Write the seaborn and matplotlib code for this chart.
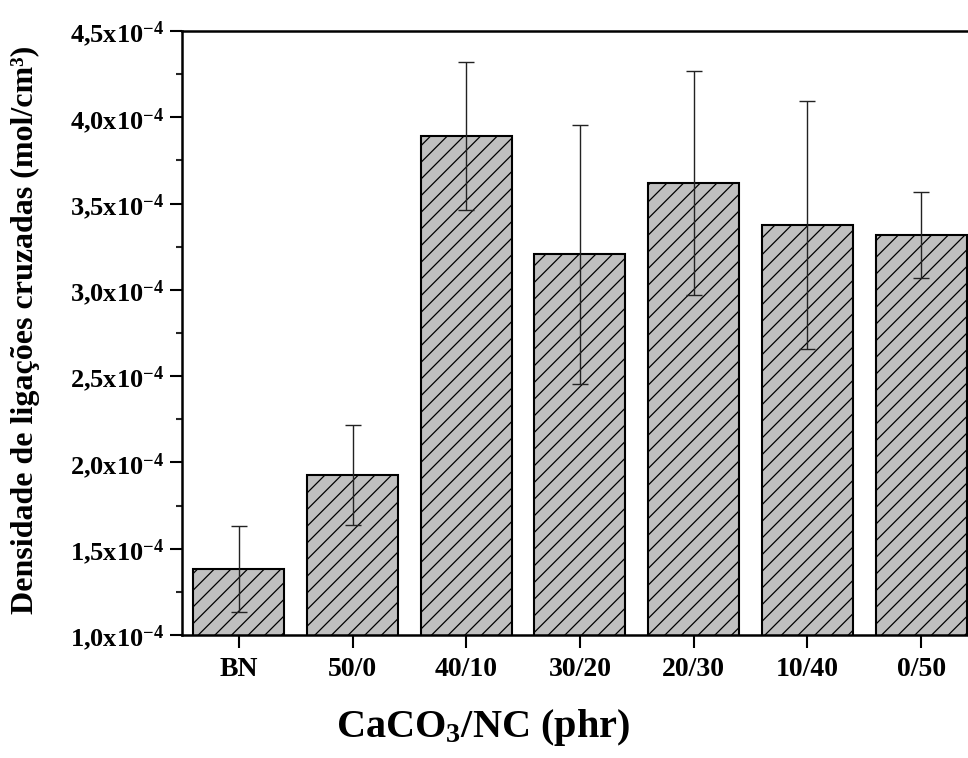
import matplotlib
matplotlib.use("Agg")
import matplotlib.pyplot as plt
from matplotlib.ticker import MultipleLocator, FuncFormatter
import seaborn as sns
import pandas as pd

# Data (values in units of 1e-4 mol/cm3)
amostras = ["BN", "50/0", "40/10", "30/20", "20/30", "10/40", "0/50"]
densidade = [1.382, 1.927, 3.891, 3.206, 3.619, 3.375, 3.316]
erro = [0.25, 0.29, 0.43, 0.75, 0.65, 0.72, 0.25]

sns.set_theme(style="ticks")
plt.rcParams["font.family"] = ["Liberation Serif", "DejaVu Serif"]
plt.rcParams["font.weight"] = "bold"
plt.rcParams["text.color"] = "black"
plt.rcParams["axes.labelcolor"] = "black"
plt.rcParams["mathtext.fontset"] = "custom"
plt.rcParams["mathtext.rm"] = "Liberation Serif:bold"
plt.rcParams["mathtext.bf"] = "Liberation Serif:bold"
plt.rcParams["mathtext.it"] = "Liberation Serif:bold"
plt.rcParams["mathtext.default"] = "rm"
plt.rcParams["hatch.linewidth"] = 0.9

df = pd.DataFrame({"amostra": amostras, "densidade": densidade, "erro": erro})

fig = plt.figure(figsize=(9.68, 7.58), dpi=100)
ax = fig.add_axes([0.188, 0.1623, 0.8223, 0.7968])

sns.barplot(data=df, x="amostra", y="densidade", color="#c0c0c0", saturation=1,
            edgecolor="black", linewidth=1.5, hatch="//", errorbar=None, width=0.8, ax=ax)
ax.errorbar(range(len(amostras)), df["densidade"], yerr=df["erro"], fmt="none",
            ecolor="#222222", elinewidth=1.0, capsize=6, capthick=1.0)

ax.set_xlim(-0.5, 6.5)
ax.set_ylim(1.0, 4.5)
ax.yaxis.set_major_locator(MultipleLocator(0.5))
ax.yaxis.set_minor_locator(MultipleLocator(0.25))
ax.yaxis.set_major_formatter(FuncFormatter(
    lambda v, p: f"{v:.1f}".replace(".", ",") + r"x10$^{-4}$"))

for s in ["left", "bottom", "top", "right"]:
    ax.spines[s].set_linewidth(1.8)
    ax.spines[s].set_color("black")

ax.tick_params(axis="y", which="major", direction="out", length=9, width=1.5,
               labelsize=19, pad=4, colors="black")
ax.tick_params(axis="y", which="minor", direction="out", length=4.5, width=1.5)
ax.tick_params(axis="x", which="major", direction="out", length=9, width=1.5,
               labelsize=20, pad=7, colors="black")
for lab in ax.get_xticklabels() + ax.get_yticklabels():
    lab.set_fontweight("bold")

ax.set_xlabel(r"CaCO$_3$/NC (phr)", fontsize=29, fontweight="bold", va="center",
              color="black")
ax.xaxis.set_label_coords(0.378, -0.154)
ax.set_ylabel("Densidade de ligações cruzadas (mol/cm³)", fontsize=23, fontweight="bold",
              va="center", color="black")
ax.yaxis.set_label_coords(-0.197, 0.505)

fig.savefig("out.png", dpi=100)
